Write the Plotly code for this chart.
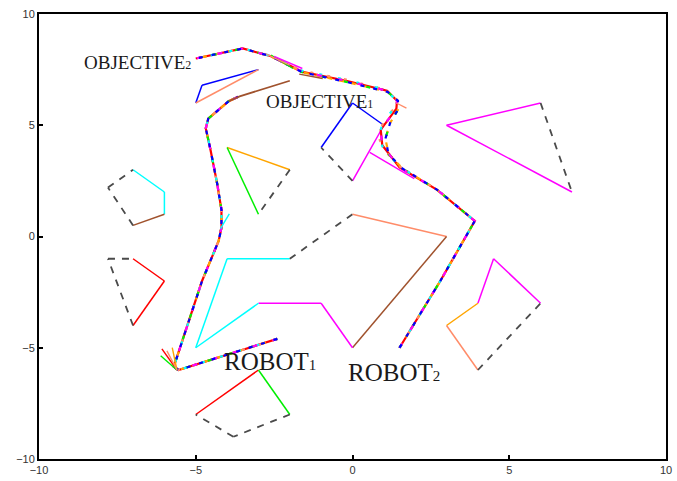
import plotly.graph_objects as go

# ---------------- data ----------------
# obstacles: vertices in order
obsA_x = [-7.0, -6.0, -6.0, -7.0, -7.8]
obsA_y = [3.0, 2.0, 1.0, 0.5, 2.2]
obsB_x = [-7.0, -6.0, -7.0, -7.8]
obsB_y = [-1.0, -2.0, -4.0, -1.0]
obsC_x = [-4.0, -2.0, -3.0]
obsC_y = [4.0, 3.0, 1.0]
obsD_x = [-1.0, 0.0, 1.0, 0.0]
obsD_y = [4.0, 6.0, 5.0, 2.5]
obsE_x = [3.0, 6.0, 7.0]
obsE_y = [5.0, 6.0, 2.0]
obsF_x = [-5.0, -4.0, -2.0, 0.0, 3.0, 0.0, -1.0, -3.0]
obsF_y = [-5.0, -1.0, -1.0, 1.0, 0.0, -5.0, -3.0, -3.0]
obsG_x = [-5.0, -3.0, -2.0, -3.8]
obsG_y = [-8.0, -6.0, -8.0, -9.0]
obsH_x = [6.0, 4.5, 4.0, 3.0, 4.0]
obsH_y = [-3.0, -1.0, -3.0, -4.0, -6.0]
obsI_x = [-3.0, -4.8, -5.0]
obsI_y = [7.5, 6.8, 6.0]

# robot 1 trajectory (start -> objective 1)
robot1_x = [-2.4, -5.55, -5.7, -4.8, -4.27, -4.18, -4.18, -4.32, -4.53, -4.68, -4.6, -3.95, -3.65]
robot1_y = [-4.6, -6.0, -5.85, -2.0, -0.2, 0.4, 1.2, 2.4, 3.9, 4.86, 5.3, 6.08, 6.28]
robot1_ext_x = [-3.95, -3.6, -2.0]
robot1_ext_y = [6.08, 6.3, 7.0]

# robot 2 trajectory (start -> objective 2), several S-curve variants
robot2_a_x = [1.5, 2.8, 3.9, 2.7, 1.5, 0.95, 0.9, 1.15, 1.4, 1.42, 1.1, -0.2, -1.6, -2.6, -3.5, -5.0]
robot2_a_y = [-5.0, -2.0, 0.7, 2.1, 3.1, 4.1, 4.8, 5.3, 5.75, 6.1, 6.55, 7.0, 7.4, 8.1, 8.45, 8.0]
robot2_b_x = [1.5, 2.8, 3.9, 2.7, 1.6, 1.15, 1.05, 1.2, 1.45, 1.45, 1.12, -0.2, -1.6, -2.6, -3.5, -5.0]
robot2_b_y = [-5.0, -2.0, 0.7, 2.1, 3.05, 3.7, 4.4, 5.1, 5.7, 6.1, 6.5, 6.95, 7.38, 8.1, 8.45, 8.0]
robot2_c_x = [1.5, 2.8, 3.9, 2.7, 1.5, 1.0, 0.82, 1.0, 1.35, 1.38, 1.05, -0.2, -1.6, -2.6, -3.5, -5.0]
robot2_c_y = [-5.0, -2.0, 0.7, 2.1, 3.15, 3.9, 4.5, 5.2, 5.8, 6.15, 6.6, 7.05, 7.45, 8.12, 8.45, 8.0]

# short stray segments of individual runs
spur_x0 = [-5.6, -5.6, -5.6, -5.6, -2.6, -2.75, -2.5, -1.7, 1.4, 0.55, -4.21]
spur_y0 = [-6.0, -6.0, -6.0, -6.0, 8.15, 8.2, 8.1, 7.3, 6.0, 3.78, 0.35]
spur_x1 = [-6.08, -5.75, -6.12, -5.92, -1.9, -2.0, -1.6, -0.95, 1.72, 1.97, -3.93]
spur_y1 = [-5.05, -4.99, -5.36, -5.14, 7.55, 7.7, 7.55, 7.1, 5.77, 2.6, 1.02]

tick_vals = [-10, -5, 0, 5, 10]

# ---------------- styles ----------------
C = dict(red="#ff0000", blue="#0000ff", green="#00ee00", magenta="#ff00ff",
         cyan="#00ffff", orange="#ffa500", sienna="#a0522d", salmon="#ff8c69")
DASH = "dash"

obstacles = [
    (obsA_x, obsA_y, ["cyan", "cyan", "sienna", DASH, DASH]),
    (obsB_x, obsB_y, ["red", "red", DASH, DASH]),
    (obsC_x, obsC_y, ["orange", DASH, "green"]),
    (obsD_x, obsD_y, ["blue", "blue", "magenta", DASH]),
    (obsE_x, obsE_y, ["magenta", DASH, "magenta"]),
    (obsF_x, obsF_y, ["cyan", "cyan", DASH, "salmon", "sienna", "magenta", "magenta", "cyan"]),
    (obsG_x, obsG_y, ["red", "green", DASH, DASH]),
    (obsH_x, obsH_y, ["magenta", "magenta", "orange", "salmon", DASH]),
    (obsI_x, obsI_y, ["blue", "blue", "salmon"]),
]

fig = go.Figure()

for xs, ys, cols in obstacles:
    n = len(xs)
    for i, c in enumerate(cols):
        j = (i + 1) % n
        if c == DASH:
            line = dict(color="#4a4a4a", width=1.8, dash="7px,7px")
        else:
            line = dict(color=C[c], width=1.5)
        fig.add_trace(go.Scatter(x=[xs[i], xs[j]], y=[ys[i], ys[j]], mode="lines",
                                 line=line, hoverinfo="skip"))

run_styles = [
    ("red", "solid"), ("orange", "5px,7px"), ("salmon", "3px,14px"), ("sienna", "2px,19px"),
    ("green", "4px,19px"), ("cyan", "3px,16px"), ("magenta", "5px,16px"), ("blue", "4px,9px"),
]

# robot 1 runs
for col, dash in run_styles:
    fig.add_trace(go.Scatter(x=robot1_x, y=robot1_y, mode="lines",
                             line=dict(color=C[col], width=2.2, dash=dash), hoverinfo="skip"))
fig.add_trace(go.Scatter(x=robot1_ext_x, y=robot1_ext_y, mode="lines",
                         line=dict(color=C["sienna"], width=1.8), hoverinfo="skip"))

# robot 2 runs
r2_variants = [(robot2_a_x, robot2_a_y), (robot2_b_x, robot2_b_y), (robot2_c_x, robot2_c_y)]
for k, (col, dash) in enumerate(run_styles):
    vx, vy = r2_variants[k % 3]
    fig.add_trace(go.Scatter(x=vx, y=vy, mode="lines",
                             line=dict(color=C[col], width=2.2, dash=dash), hoverinfo="skip"))

spur_cols = ["red", "orange", "green", "salmon", "green", "salmon", "magenta", "sienna",
             "salmon", "magenta", "cyan"]
for i in range(len(spur_x0)):
    fig.add_trace(go.Scatter(x=[spur_x0[i], spur_x1[i]], y=[spur_y0[i], spur_y1[i]], mode="lines",
                             line=dict(color=C[spur_cols[i]], width=1.4), hoverinfo="skip"))

serif = "Liberation Serif, Times New Roman, serif"
labels = [
    (-8.63, 7.8, "OBJECTIVE<span style='font-size:12px'>2</span>", 19),
    (-2.83, 6.05, "OBJECTIVE<span style='font-size:12px'>1</span>", 19),
    (-4.17, -5.6, "ROBOT<span style='font-size:15px'>1</span>", 25),
    (-0.22, -6.1, "ROBOT<span style='font-size:15px'>2</span>", 25),
]
for x, y, t, s in labels:
    fig.add_annotation(x=x, y=y, text=t, showarrow=False, xanchor="left", yanchor="middle",
                       font=dict(family=serif, size=s, color="#1a1a1a"))

axis_common = dict(range=[-10, 10], tickvals=tick_vals, ticks="inside", ticklen=4, tickwidth=2,
                   tickcolor="black", showline=True, linewidth=2, linecolor="black", mirror=True,
                   showgrid=False, zeroline=False, automargin=False,
                   tickfont=dict(family="Liberation Sans, Arial, sans-serif", size=11, color="#333"))

fig.update_layout(
    width=677, height=481, margin=dict(l=39, r=11, t=14, b=22),
    plot_bgcolor="white", paper_bgcolor="white", showlegend=False,
    xaxis=axis_common, yaxis=axis_common,
)

fig.write_html("out.html", config={"displayModeBar": False},
               post_script="document.body.style.margin='0';document.body.style.overflow='hidden';")
